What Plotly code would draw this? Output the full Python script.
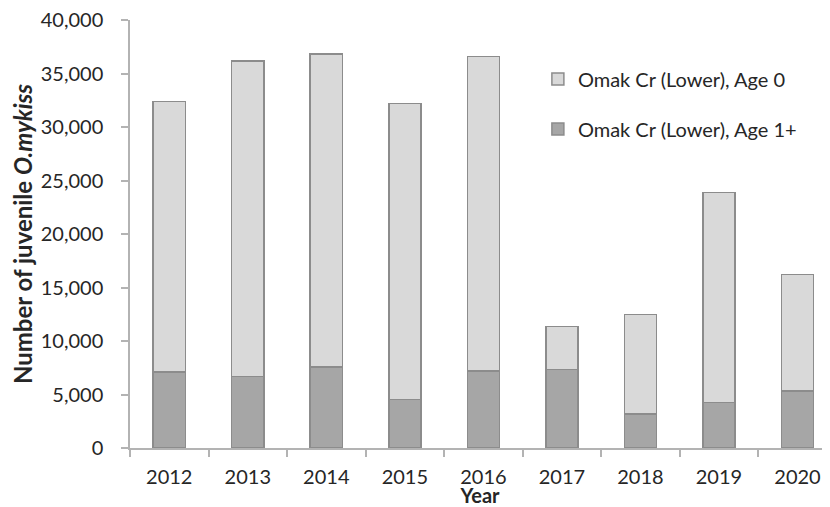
import plotly.graph_objects as go

years = ["2012", "2013", "2014", "2015", "2016", "2017", "2018", "2019", "2020"]
age1_plus = [7100, 6700, 7550, 4550, 7200, 7350, 3200, 4250, 5350]
age0 = [25300, 29450, 29250, 27650, 29400, 4000, 9300, 19650, 10850]
y_ticks = [0, 5000, 10000, 15000, 20000, 25000, 30000, 35000, 40000]

FONT = "Lato"
TXT = "#262626"
AXIS = "#B3B3B3"
EDGE = "#8C8C8C"

fig = go.Figure()
fig.add_trace(go.Bar(
    x=years, y=age1_plus, name="Omak Cr (Lower), Age 1+",
    marker=dict(color="#A6A6A6", line=dict(color=EDGE, width=1.5)),
    legend="legend2",
))
fig.add_trace(go.Bar(
    x=years, y=age0, name="Omak Cr (Lower), Age 0",
    marker=dict(color="#D9D9D9", line=dict(color=EDGE, width=1.5)),
    legend="legend",
))

# page body has an 8px margin, so the figure is sized to fill the rest of the window
W, H = 822, 499
L, T, B = 122, 12, 59

fig.update_layout(
    width=W, height=H,
    margin=dict(l=L, r=0, t=T, b=B, pad=0, autoexpand=False),
    barmode="stack",
    bargap=0.59,
    showlegend=True,
    plot_bgcolor="white", paper_bgcolor="white",
    font=dict(family=FONT, size=20, color=TXT),
    legend=dict(x=0.5827, y=0.8622, xanchor="left", yanchor="middle",
                font=dict(family=FONT, size=20, color=TXT),
                bgcolor="rgba(0,0,0,0)", itemwidth=30),
    legend2=dict(x=0.5827, y=0.7455, xanchor="left", yanchor="middle",
                 font=dict(family=FONT, size=20, color=TXT),
                 bgcolor="rgba(0,0,0,0)", itemwidth=30),
    xaxis=dict(
        type="category", range=[-0.5, 8.414], automargin=False,
        showline=True, linecolor=AXIS, linewidth=1.5,
        ticks="outside", tickson="boundaries", ticklen=7, tickcolor=AXIS, tickwidth=1.5,
        showgrid=False, zeroline=False,
        ticklabelstandoff=10, ticklabeloverflow="allow",
        tickfont=dict(family=FONT, size=20, color=TXT),
        title=dict(text="<b>Year</b>", font=dict(family=FONT, size=20, color=TXT), standoff=5),
    ),
    yaxis=dict(
        range=[0, 40000], tickvals=y_ticks, tickformat=",d", automargin=False,
        showline=True, linecolor=AXIS, linewidth=1.5,
        ticks="outside", ticklen=7, tickcolor=AXIS, tickwidth=1.5,
        showgrid=False, zeroline=False,
        ticklabelstandoff=14, ticklabeloverflow="allow",
        tickfont=dict(family=FONT, size=20, color=TXT),
        title=dict(text="<b>Number of juvenile <i>O.mykiss</i></b>",
                   font=dict(family=FONT, size=24, color=TXT), standoff=12),
    ),
)

fig.write_html("out.html")
